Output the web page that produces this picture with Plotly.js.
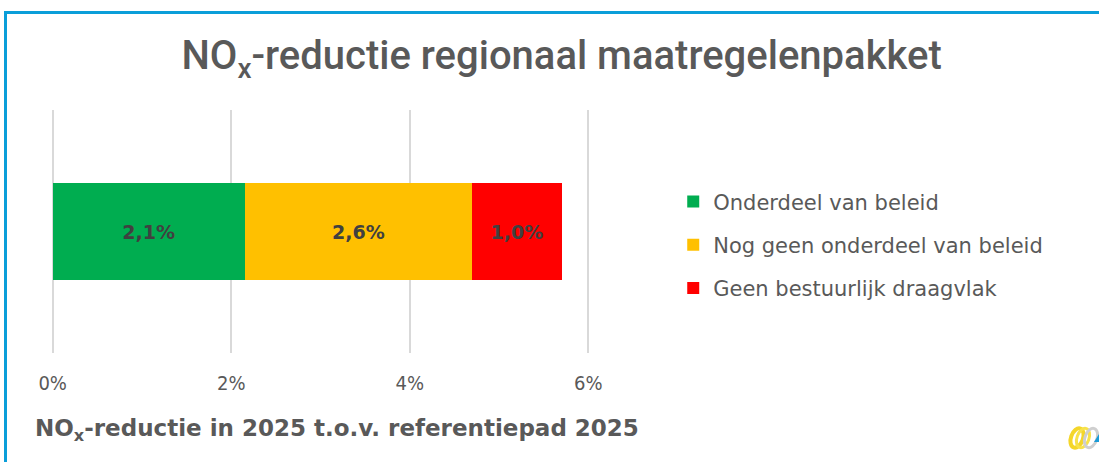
<!DOCTYPE html>
<html><head><meta charset="utf-8">
<script src="https://cdn.plot.ly/plotly-3.0.1.min.js"></script>
<style>
html,body{margin:0;padding:0;background:#fff;}
#wrap{position:relative;width:1099px;height:462px;overflow:hidden;}
#chart{position:absolute;left:0;top:0;width:1099px;height:462px;}
#frame{position:absolute;left:4px;top:11px;width:1100px;height:460px;border-top:3px solid #0A9ED9;border-left:3px solid #0A9ED9;pointer-events:none;}
#logo{position:absolute;left:0;top:0;pointer-events:none;}
</style></head>
<body><div id="wrap"><div id="chart"></div><div id="frame"></div>
<svg id="logo" width="1099" height="462">
  <ellipse cx="1077" cy="438" rx="6" ry="10" transform="rotate(20 1077 438)" fill="none" stroke="#F4D62A" stroke-width="4"/>
  <ellipse cx="1083" cy="438" rx="6" ry="10" transform="rotate(20 1083 438)" fill="none" stroke="#F7E24A" stroke-width="3"/>
  <ellipse cx="1091" cy="438" rx="6" ry="10" transform="rotate(20 1091 438)" fill="none" stroke="#CFCFCF" stroke-width="3"/>
  <polygon points="1094,442 1099,434 1099,442" fill="#1A9BD7"/>
</svg></div>
<script>
const category = ["NOx"];
const seriesNames = ["Onderdeel van beleid", "Nog geen onderdeel van beleid", "Geen bestuurlijk draagvlak"];
const seriesValues = [2.15, 2.55, 1.0];
const seriesLabels = ["2,1%", "2,6%", "1,0%"];
const seriesColors = ["#00AD50", "#FFC000", "#FF0000"];
const tickValues = [0, 2, 4, 6];
const tickLabels = ["0%", "2%", "4%", "6%"];

const traces = seriesNames.map((name, i) => ({
  type: 'bar', orientation: 'h', name: name,
  x: [seriesValues[i]], y: category,
  marker: {color: seriesColors[i]},
  text: [seriesLabels[i]], textposition: 'inside', insidetextanchor: 'middle',
  textfont: {family: 'DejaVu Sans', size: 19, color: '#404040', weight: 'bold'},
  legendgroup: 'g' + i, hoverinfo: 'skip'
}));

const layout = {
  width: 1099, height: 462,
  margin: {l: 50.3, r: 508.3, t: 110, b: 109},
  paper_bgcolor: '#fff', plot_bgcolor: '#fff',
  barmode: 'stack', bargap: 0.6,
  showlegend: true,
  title: {text: 'NO<sub>x</sub>-reductie regionaal maatregelenpakket', x: 0.511, xanchor: 'center', y: 0.88, yanchor: 'middle',
          font: {family: 'Roboto', size: 40, color: '#595959', weight: 500}},
  xaxis: {range: [-0.03, 6.03], tickvals: tickValues, ticktext: tickLabels, showgrid: true, gridcolor: '#D9D9D9', gridwidth: 2,
          zeroline: false, showline: false, ticks: '', ticklen: 0, fixedrange: true, ticklabelstandoff: 16,
          tickfont: {family: 'DejaVu Sans Condensed', size: 20, color: '#595959'}},
  yaxis: {showticklabels: false, showgrid: false, zeroline: false, showline: false, range: [-0.5, 0.5]},
  legend: {x: 1.152, xanchor: 'left', y: 0.445, yanchor: 'middle', traceorder: 'grouped', tracegroupgap: 13,
           font: {family: 'DejaVu Sans', size: 21, color: '#595959'}, itemwidth: 30},
  annotations: [{xref: 'paper', yref: 'paper', x: -0.032, xanchor: 'left', y: -0.318, yanchor: 'middle', showarrow: false,
                 text: 'NO<sub>x</sub>-reductie in 2025 t.o.v. referentiepad 2025',
                 font: {family: 'DejaVu Sans', size: 23, color: '#595959', weight: 'bold'}}]
};
Plotly.newPlot('chart', traces, layout, {displayModeBar: false, staticPlot: true});
</script></body></html>
